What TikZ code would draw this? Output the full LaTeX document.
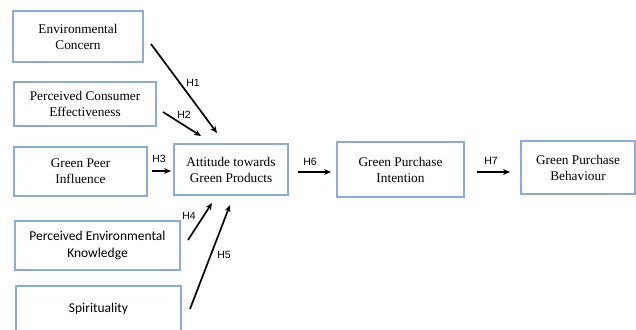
\documentclass[tikz,border=0pt]{standalone}
\usepackage{fontspec}
\setmainfont{Liberation Serif}
\newfontfamily\calfont{Carlito}
\newfontfamily\hfont{Liberation Sans}
\usetikzlibrary{arrows.meta}
\definecolor{boxblue}{HTML}{8EAADB}
\tikzset{
  cbox/.style={draw=boxblue, line width=1.1pt, align=center, inner sep=0pt,
    font=\fontsize{13.3}{16}\selectfont},
  sbox/.style={cbox, font=\calfont\fontsize{13.5}{16.5}\selectfont},
  harrow/.style={-{Stealth[length=7pt,width=6pt]}, line width=1.7pt, black},
  hlab/.style={font=\hfont\fontsize{10.5}{12}\selectfont, inner sep=0pt}
}
\begin{document}
\begin{tikzpicture}[x=1pt,y=-1pt]
\useasboundingbox (0,0) rectangle (636,329);
% boxes
\node[cbox, minimum width=130pt, minimum height=51pt] (ec) at (78,36.5) {Environmental\\Concern};
\node[cbox, minimum width=142pt, minimum height=44pt] (pce) at (85,104) {Perceived Consumer\\Effectiveness};
\node[cbox, minimum width=133pt, minimum height=49pt] (gpi) at (80.5,171.5) {Green Peer\\Influence};
\node[cbox, minimum width=114pt, minimum height=51pt] (att) at (231,169.5) {Attitude towards\\Green Products};
\node[sbox, minimum width=165pt, minimum height=49pt] (pek) at (97.5,245.5) {Perceived Environmental\\Knowledge};
\node[sbox, minimum width=165pt, minimum height=45pt] (spi) at (98.5,308.5) {Spirituality};
\node[cbox, minimum width=127pt, minimum height=55pt] (gpin) at (400.5,169.5) {Green Purchase\\Intention};
\node[cbox, minimum width=114pt, minimum height=53pt] (gpb) at (578,167.5) {Green Purchase\\Behaviour};
% arrow endpoints
\coordinate (h1s) at (151,44);
\coordinate (h1e) at (217,133);
\coordinate (h2s) at (163,112);
\coordinate (h2e) at (201,136);
\coordinate (h3s) at (152,171);
\coordinate (h3e) at (171,171);
\coordinate (h4s) at (188,240);
\coordinate (h4e) at (212,203);
\coordinate (h5s) at (190,309);
\coordinate (h5e) at (230,205);
\coordinate (h6s) at (298,172);
\coordinate (h6e) at (331,172);
\coordinate (h7s) at (477,172);
\coordinate (h7e) at (510,172);
\draw[harrow] (h1s) -- (h1e);
\draw[harrow] (h2s) -- (h2e);
\draw[harrow] (h3s) -- (h3e);
\draw[harrow] (h4s) -- (h4e);
\draw[harrow] (h5s) -- (h5e);
\draw[harrow] (h6s) -- (h6e);
\draw[harrow] (h7s) -- (h7e);
% labels
\node[hlab] (l1) at (193,83) {H1};
\node[hlab] (l2) at (184,115) {H2};
\node[hlab] (l3) at (159,159) {H3};
\node[hlab] (l4) at (189,216) {H4};
\node[hlab] (l5) at (224,255) {H5};
\node[hlab] (l6) at (310,162) {H6};
\node[hlab] (l7) at (491,161) {H7};
\end{tikzpicture}
\end{document}
